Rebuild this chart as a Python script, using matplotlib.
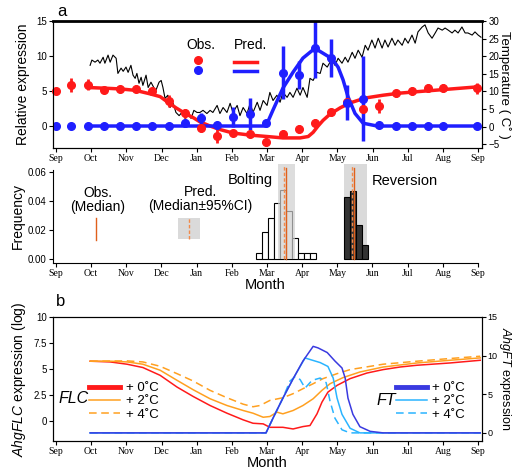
import matplotlib
matplotlib.use('Agg')
import matplotlib.pyplot as plt
from matplotlib.patches import Rectangle
from matplotlib.lines import Line2D

plt.rcParams['font.family'] = ['Liberation Sans', 'DejaVu Sans']
plt.rcParams['mathtext.fontset'] = 'custom'
plt.rcParams['mathtext.it'] = 'Liberation Sans:italic'
plt.rcParams['mathtext.rm'] = 'Liberation Sans'

# ---- data (x in months from 1 Sep) ----
months = ['Sep', 'Oct', 'Nov', 'Dec', 'Jan', 'Feb', 'Mar', 'Apr', 'May', 'Jun', 'Jul', 'Aug', 'Sep']

obs_t = [0.0, 0.43, 0.91, 1.36, 1.82, 2.27, 2.73, 3.21, 3.67, 4.12, 4.58, 5.03, 5.52,
         5.97, 6.45, 6.91, 7.36, 7.82, 8.27, 8.73, 9.18, 9.67, 10.12, 10.58, 11.0, 11.97]
flc_obs = [5.0, 5.9, 5.9, 5.2, 5.3, 5.3, 5.0, 3.6, 1.8, -0.3, -1.4, -1.0, -1.1,
           -2.3, -1.1, -0.4, 0.4, 2.0, 3.4, 2.4, 2.9, 4.7, 5.0, 5.4, 5.4, 5.4]
flc_err = [0.4, 1.0, 0.8, 0.4, 0.4, 0.5, 0.5, 0.9, 0.7, 0.6, 1.0, 0.4, 0.4,
           0.6, 0.5, 0.6, 0.6, 0.5, 0.5, 0.6, 1.0, 0.5, 0.6, 0.6, 0.6, 0.8]
ft_obs = [0, 0, 0, 0, 0, 0, 0, 0, 0.4, 1.1, 0.2, 1.3, 1.7,
          0.5, 7.6, 7.3, 11.1, 9.7, 3.3, 3.9, 0.1, 0, 0, 0, 0, 0]
ft_err = [0.2, 0.2, 0.2, 0.2, 0.2, 0.2, 0.2, 0.2, 0.6, 0.8, 0.3, 1.4, 2.3,
          0.2, 3.8, 2.0, 4.2, 2.7, 2.5, 6.1, 0.3, 0.2, 0.2, 0.2, 0.2, 0.3]

flc_pred_t = [0.91, 1.39, 1.82, 2.25, 2.67, 2.96, 3.18, 3.41, 3.67, 3.90, 4.09, 4.38, 4.66,
              5.03, 5.52, 6.00, 6.45, 6.94, 7.17, 7.31, 7.45, 7.59, 7.79, 8.08, 8.36, 8.79,
              9.30, 9.78, 10.26, 11.0, 12.0]
flc_pred = [5.5, 5.4, 5.3, 5.1, 4.6, 4.2, 3.4, 2.6, 1.8, 1.2, 0.6, 0.0, -0.5,
            -1.0, -1.3, -1.5, -1.7, -1.7, -1.5, -0.9, 0.0, 0.8, 1.7, 2.6, 3.3, 4.0,
            4.4, 4.7, 4.9, 5.2, 5.6]
ft_pred_t = [0.91, 5.97, 6.17, 6.45, 6.74, 7.02, 7.36, 7.59, 7.85, 8.02, 8.16, 8.30,
             8.50, 8.73, 9.13, 12.0]
ft_pred = [0, 0, 2.3, 5.4, 7.7, 9.7, 11.1, 10.4, 9.6, 8.4, 6.6, 4.2, 1.8, 0.4, 0, 0]

temp_t = [0.97, 1.02, 1.11, 1.19, 1.25, 1.34, 1.39, 1.48, 1.54, 1.62, 1.71, 1.76, 1.85,
          1.91, 1.99, 2.05, 2.13, 2.19, 2.25, 2.30, 2.36, 2.42, 2.47, 2.56, 2.62, 2.70,
          2.79, 2.84, 2.93, 2.99, 3.04, 3.10, 3.18, 3.24, 3.33, 3.41, 3.50, 3.58, 3.67,
          3.75, 3.84, 3.92, 4.01, 4.09, 4.18, 4.29, 4.38, 4.46, 4.58, 4.66, 4.75, 4.86,
          4.95, 5.03, 5.15, 5.23, 5.32, 5.43, 5.52, 5.60, 5.72, 5.80, 5.89, 6.00, 6.08,
          6.17, 6.28, 6.37, 6.45, 6.57, 6.65, 6.74, 6.85, 6.94, 7.02, 7.14, 7.22, 7.31,
          7.42, 7.51, 7.59, 7.71, 7.79, 7.85, 7.93, 8.02, 8.13, 8.22, 8.30, 8.42, 8.50,
          8.59, 8.70, 8.79, 8.87, 8.98, 9.07, 9.16, 9.27, 9.35, 9.44, 9.55, 9.64, 9.72,
          9.84, 9.92, 10.01, 10.12, 10.21, 10.29, 10.41, 10.49, 10.58, 10.69, 10.78,
          10.86, 10.98, 11.06, 11.15, 11.26, 11.34, 11.43, 11.54, 11.63, 11.71, 11.83,
          11.91, 12.00, 12.08]
temp = [17.4, 18.9, 18.3, 18.9, 18.0, 19.7, 18.0, 20.3, 18.3, 20.3, 19.4, 15.1, 16.6,
        15.7, 16.9, 15.4, 17.4, 14.6, 13.7, 15.1, 12.3, 14.0, 11.7, 14.6, 11.1, 12.6,
        10.9, 10.3, 12.6, 13.1, 11.1, 8.0, 8.9, 5.4, 6.6, 4.0, 3.1, 4.0, 2.3,
        3.7, 2.3, 4.6, 4.0, 4.0, 4.6, 3.7, 4.6, 4.0, 6.0, 3.7, 5.4, 4.0,
        6.6, 4.0, 6.0, 3.1, 5.4, 3.7, 6.6, 4.0, 6.9, 4.6, 7.4, 6.0, 9.7,
        7.4, 8.9, 6.9, 9.7, 8.3, 9.7, 8.3, 10.9, 8.9, 11.1, 8.3, 13.7, 13.1,
        15.4, 15.1, 18.0, 16.9, 18.3, 18.9, 17.4, 19.4, 18.0, 19.7, 18.3, 21.1, 19.4,
        21.7, 19.7, 23.1, 21.7, 24.6, 22.3, 25.1, 22.3, 24.6, 22.6, 25.1, 23.1, 24.6,
        23.1, 25.1, 23.7, 26.0, 23.7, 26.9, 28.3, 28.9, 26.6, 25.1, 26.6,
        28.0, 27.4, 28.0, 27.4, 26.6, 27.4, 26.6, 28.3, 26.6, 26.6, 26.0,
        26.9, 26.0, 25.4]

# histograms of bolting / reversion dates
bin_w = 0.171
bolt_left = [5.69, 5.86, 6.03, 6.20, 6.37, 6.54, 6.71, 6.88, 7.05, 7.22]
bolt_freq = [0.0043, 0.0184, 0.0285, 0.0384, 0.0476, 0.0331, 0.0143, 0.0043, 0.0043, 0.0043]
rev_left = [8.19, 8.36, 8.53, 8.70]
rev_freq = [0.0425, 0.0469, 0.0234, 0.0097]
bolt_ci = (6.31, 6.80)
rev_ci = (8.19, 8.84)
bolt_pred_med, bolt_obs_med = 6.49, 6.54
rev_pred_med, rev_obs_med = 8.43, 8.47

# panel b simulated curves
flc0_t = [0.97, 1.54, 2.02, 2.47, 2.96, 3.44, 3.90, 4.38, 4.86, 5.32, 5.60, 5.89, 6.08,
          6.45, 6.74, 7.02, 7.22, 7.42, 7.56, 7.73, 7.99, 8.36, 8.84, 9.30, 9.78, 10.26,
          11.20, 12.06]
flc0 = [5.74, 5.67, 5.45, 5.13, 4.38, 3.25, 2.34, 1.47, 0.73, 0.09, -0.24, -0.30, -0.63,
        -0.63, -0.79, -0.56, -0.46, 0.67, 1.79, 2.76, 3.41, 4.06, 4.60, 4.93, 5.18, 5.35,
        5.57, 5.83]
flc2_t = [0.97, 1.54, 2.02, 2.47, 2.96, 3.44, 3.90, 4.38, 4.86, 5.32, 5.60, 5.89, 6.08,
          6.28, 6.45, 6.74, 7.02, 7.31, 7.56, 7.79, 8.16, 8.64, 9.30, 10.26, 11.20, 12.06]
flc2 = [5.74, 5.74, 5.67, 5.45, 4.87, 3.90, 2.99, 2.12, 1.47, 0.99, 0.73, 0.34, 0.41,
        0.83, 0.67, 0.99, 1.47, 2.12, 2.93, 3.57, 4.16, 4.70, 5.18, 5.57, 5.83, 6.06]
flc4_t = [0.97, 2.02, 2.47, 2.96, 3.44, 3.90, 4.38, 4.86, 5.32, 5.60, 5.80, 6.08, 6.45,
          6.74, 7.02, 7.31, 7.59, 7.99, 8.36, 9.30, 10.26, 11.20, 12.06]
flc4 = [5.74, 5.77, 5.67, 5.25, 4.54, 3.83, 2.93, 2.22, 1.60, 1.35, 1.47, 1.96, 2.22,
        2.61, 3.09, 3.57, 4.06, 4.54, 4.93, 5.45, 5.74, 6.00, 6.22]
ft0_t = [0.97, 5.97, 6.20, 6.45, 6.74, 7.02, 7.31, 7.45, 7.71, 7.93, 8.13, 8.22, 8.30,
         8.44, 8.64, 8.93, 9.30, 12.06]
ft0 = [0, 0, 2.2, 4.5, 7.0, 9.3, 11.2, 11.0, 10.4, 9.3, 8.4, 7.1, 4.5, 2.4, 0.8, 0.2, 0, 0]
ft2_t = [0.97, 5.97, 6.20, 6.45, 6.74, 7.08, 7.22, 7.51, 7.73, 7.88, 7.99, 8.13, 8.36,
         8.64, 12.06]
ft2 = [0, 0, 2.2, 4.5, 7.0, 9.7, 9.5, 9.1, 8.6, 7.1, 4.5, 2.4, 0.6, 0, 0]
ft4_t = [0.97, 5.97, 6.20, 6.45, 6.65, 6.80, 6.94, 7.08, 7.28, 7.51, 7.68, 7.79, 7.93,
         8.13, 8.36, 12.06]
ft4 = [0, 0, 2.2, 4.5, 6.7, 7.3, 6.9, 5.8, 6.8, 7.1, 6.5, 4.1, 1.9, 0.4, 0, 0]

RED = '#ff1a1a'
BLUE = '#1f1fff'
ORANGE = '#ffa020'
DBLUE = '#3a3ae0'
LBLUE = '#2ab4ff'
MED_OBS = '#e0601c'
MED_PRED = '#f28a4a'

W, H = 512, 471
fig = plt.figure(figsize=(W / 100, H / 100), dpi=100)


def box(l, t, r, b):
    return [l / W, 1 - b / H, (r - l) / W, (b - t) / H]


def month_axis(ax, right=12.11):
    ax.set_xlim(-0.085, right)
    ax.set_xticks(range(13))
    ax.set_xticklabels(months, family='Liberation Serif', fontsize=9)
    ax.tick_params(axis='both', direction='out', length=3, width=0.8, labelsize=7, pad=1.5)


# ---------------- panel a, top ----------------
ax1 = fig.add_axes(box(53, 21, 482, 148))
ax1t = ax1.twinx()
ax1.set_zorder(ax1t.get_zorder() + 1)
ax1.patch.set_visible(False)
month_axis(ax1)
ax1.set_ylim(-3.14, 15)
ax1.set_yticks([0, 5, 10, 15])
ax1t.set_ylim(-6.1, 30)
ax1t.set_yticks(range(-5, 31, 5))
ax1t.tick_params(direction='out', length=3, width=0.8, labelsize=7, pad=1.5)
ax1.spines['top'].set_linewidth(2)
ax1t.spines['top'].set_visible(False)
for s in ['left', 'right', 'bottom']:
    ax1.spines[s].set_linewidth(0.8)
    ax1t.spines[s].set_linewidth(0.8)

ax1t.plot(temp_t, temp, color='black', lw=0.8)
ax1.plot(flc_pred_t, flc_pred, color=RED, lw=2.5)
ax1.plot(ft_pred_t, ft_pred, color=BLUE, lw=2.5)
ax1.errorbar(obs_t, flc_obs, yerr=flc_err, fmt='o', color=RED, ms=5.5, elinewidth=2,
             capsize=0, clip_on=False)
ax1.errorbar(obs_t, ft_obs, yerr=ft_err, fmt='o', color=BLUE, ms=5.5, elinewidth=2.5,
             capsize=0)

ax1.set_ylabel('Relative expression', fontsize=10, labelpad=4)
ax1t.set_ylabel('Temperature ( C\u02da )', fontsize=9.5, rotation=-90, va='center', ha='center')
ax1t.yaxis.set_label_coords(1.053, 0.5)
fig.text(57 / W, 1 - 12 / H, 'a', fontsize=12, ha='left', va='center')

# legend keys (Obs. dots, Pred. lines)
ax1.text(0.344, 0.81, 'Obs.', transform=ax1.transAxes, ha='center', va='center', fontsize=10)
ax1.text(0.46, 0.81, 'Pred.', transform=ax1.transAxes, ha='center', va='center', fontsize=10)
ax1.add_line(Line2D([0.338], [0.693], transform=ax1.transAxes, marker='o', ms=5.5,
                    color=RED, ls='none'))
ax1.add_line(Line2D([0.338], [0.614], transform=ax1.transAxes, marker='o', ms=5.5,
                    color=BLUE, ls='none'))
ax1.add_line(Line2D([0.422, 0.475], [0.677, 0.677], transform=ax1.transAxes, lw=2.5, color=RED))
ax1.add_line(Line2D([0.422, 0.475], [0.606, 0.606], transform=ax1.transAxes, lw=2.5, color=BLUE))

# ---------------- panel a, histogram ----------------
ax2 = fig.add_axes(box(53, 170, 478, 263))
month_axis(ax2, right=12.0)
ax2.set_ylim(-0.0028, 0.0614)
ax2.set_yticks([0, 0.02, 0.04, 0.06])
ax2.set_yticklabels(['0.00', '0.02', '0.04', '0.06'])
ax2.spines['top'].set_visible(False)
ax2.spines['right'].set_visible(False)
ax2.spines['left'].set_linewidth(0.8)
ax2.spines['bottom'].set_linewidth(0.8)

ax2.bar(bolt_left, bolt_freq, width=bin_w, align='edge', facecolor='white',
        edgecolor='black', lw=0.8, zorder=2)
ax2.add_patch(Rectangle((bolt_ci[0], 0), bolt_ci[1] - bolt_ci[0], 0.0655, facecolor='#cfcfcf',
                        alpha=0.7, lw=0, zorder=3, clip_on=False))
ax2.add_patch(Rectangle((rev_ci[0], 0), rev_ci[1] - rev_ci[0], 0.0655, facecolor='#dadada',
                        lw=0, zorder=1, clip_on=False))
ax2.bar(rev_left, rev_freq, width=bin_w, align='edge', facecolor='#333333',
        edgecolor='black', lw=0.8, zorder=2)
for med in [bolt_pred_med, rev_pred_med]:
    ax2.plot([med, med], [0, 0.0645], color=MED_PRED, lw=1.0, ls=(0, (2.5, 1.5)), zorder=4,
             clip_on=False)
for med in [bolt_obs_med, rev_obs_med]:
    ax2.plot([med, med], [0, 0.0625], color=MED_OBS, lw=1.0, zorder=4, clip_on=False)

# key for obs / pred medians
ax2.plot([1.14, 1.14], [0.013, 0.028], color=MED_OBS, lw=1.0)
ax2.add_patch(Rectangle((3.47, 0.014), 0.62, 0.014, facecolor='#dadada', lw=0))
ax2.plot([3.78, 3.78], [0.014, 0.028], color=MED_PRED, lw=1.0, ls=(0, (2.5, 1.5)))
ax2.text(0.106, 0.68, 'Obs.\n(Median)', transform=ax2.transAxes, ha='center', va='center',
         fontsize=10, linespacing=1.0)
ax2.text(0.346, 0.69, 'Pred.\n(Median\u00b195%CI)', transform=ax2.transAxes, ha='center',
         va='center', fontsize=10, linespacing=1.0)
ax2.text(0.464, 0.89, 'Bolting', transform=ax2.transAxes, ha='center', va='center', fontsize=10.5)
ax2.text(0.828, 0.88, 'Reversion', transform=ax2.transAxes, ha='center', va='center',
         fontsize=10.5)
ax2.set_ylabel('Frequency', fontsize=10, labelpad=2)
ax2.set_xlabel('Month', fontsize=10.5, labelpad=0)

# ---------------- panel b ----------------
ax3 = fig.add_axes(box(53, 317, 482, 441))
ax3t = ax3.twinx()
month_axis(ax3)
ax3.set_ylim(-1.95, 10)
ax3.set_yticks([0, 2.5, 5, 7.5, 10])
ax3.set_yticklabels(['0', '2.5', '5', '7.5', '10'])
ax3t.set_ylim(-1.05, 15)
ax3t.set_yticks([0, 5, 10, 15])
ax3t.tick_params(direction='out', length=3, width=0.8, labelsize=6.5, pad=1)
for s in ax3.spines.values():
    s.set_linewidth(0.8)
for s in ax3t.spines.values():
    s.set_linewidth(0.8)

ax3.plot(flc0_t, flc0, color=RED, lw=1.1)
ax3.plot(flc2_t, flc2, color=ORANGE, lw=1.1)
ax3.plot(flc4_t, flc4, color=ORANGE, lw=1.1, ls=(0, (5, 3)))
ax3t.plot(ft4_t, ft4, color=LBLUE, lw=1.1, ls=(0, (5, 3)))
ax3t.plot(ft2_t, ft2, color=LBLUE, lw=1.1)
ax3t.plot(ft0_t, ft0, color=DBLUE, lw=1.1)

ax3.set_ylabel(r'$\mathit{AhgFLC}$ expression (log)', fontsize=10, labelpad=4)
ax3t.set_ylabel(r'$\mathit{AhgFT}$ expression', fontsize=9, rotation=-90, va='center',
                ha='center')
ax3t.yaxis.set_label_coords(1.054, 0.5)
ax3.set_xlabel('Month', fontsize=10.5, labelpad=0)
fig.text(56 / W, 1 - 301 / H, 'b', fontsize=12, ha='left', va='center')

leg1 = ax3.legend([Line2D([], [], color=RED, lw=3.5), Line2D([], [], color=ORANGE, lw=1.1),
                   Line2D([], [], color=ORANGE, lw=1.1, ls=(0, (5, 3)))],
                  ['+ 0\u02daC', '+ 2\u02daC', '+ 4\u02daC'], loc='center left',
                  bbox_to_anchor=(0.085, 0.32), frameon=False, fontsize=9.5, handlelength=2.3,
                  handletextpad=0.45, labelspacing=0.08, borderpad=0, borderaxespad=0)
ax3.add_artist(leg1)
ax3.text(0.047, 0.34, 'FLC', style='italic', transform=ax3.transAxes, ha='center', va='center',
         fontsize=11.5)
ax3.legend([Line2D([], [], color=DBLUE, lw=3.5), Line2D([], [], color=LBLUE, lw=1.1),
            Line2D([], [], color=LBLUE, lw=1.1, ls=(0, (5, 3)))],
           ['+ 0\u02daC', '+ 2\u02daC', '+ 4\u02daC'], loc='center left',
           bbox_to_anchor=(0.80, 0.32), frameon=False, fontsize=9.5, handlelength=2.3,
           handletextpad=0.45, labelspacing=0.08, borderpad=0, borderaxespad=0)
ax3.text(0.776, 0.33, 'FT', style='italic', transform=ax3.transAxes, ha='center', va='center',
         fontsize=11.5)

fig.savefig('out.png', dpi=100)
